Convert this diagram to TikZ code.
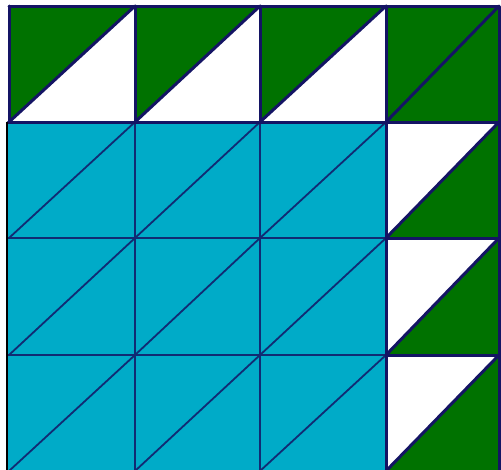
\documentclass[tikz,border=0pt]{standalone}
\definecolor{qgreen}{RGB}{0,114,0}
\definecolor{qblue}{RGB}{0,171,200}
\definecolor{qnavy}{RGB}{20,20,100}
\tikzset{
  thickline/.style={draw=qnavy,line width=3pt,line join=round,line cap=round},
  thinline/.style={draw=qnavy!85!qblue,line width=1.8pt,line cap=round}
}
\begin{document}
\begin{tikzpicture}[x=1pt,y=-1pt]
\useasboundingbox (0,0) rectangle (501,469);
\fill[white] (0,0) rectangle (501,469);
% blue 3x3 block
\fill[qblue] (8,122) rectangle (386,471);
\foreach \xa/\xb in {9/135,135/260,260/386}{
  \foreach \ya/\yb in {122/238,238/355,355/471}{
    \draw[thinline] (\xa,\yb) -- (\xb,\ya);
  }
}
\foreach \x in {135,260}{\draw[thinline] (\x,122) -- (\x,471);}
\foreach \y in {238,355}{\draw[thinline] (8,\y) -- (386,\y);}
% top row
\foreach \xa/\xb in {9/135,135/260,260/386}{
  \fill[qgreen] (\xa,6) -- (\xb,6) -- (\xa,122) -- cycle;
  \draw[thickline] (\xa,122) -- (\xb,6);
}
\fill[qgreen] (386,6) rectangle (499,122);
\draw[thickline] (386,122) -- (499,6);
% right column
\foreach \ya/\yb in {122/238,238/355,355/471}{
  \fill[qgreen] (499,\ya) -- (499,\yb) -- (386,\yb) -- cycle;
  \draw[thickline] (386,\yb) -- (499,\ya);
}
% thick grid lines
\draw[thickline] (9,6) -- (499,6) -- (499,471);
\draw[thickline] (9,6) -- (9,122);
\foreach \x in {135,260}{\draw[thickline] (\x,6) -- (\x,122);}
\draw[thickline] (386,6) -- (386,471);
\draw[thickline] (8,122) -- (499,122);
\foreach \y in {238,355}{\draw[thickline] (386,\y) -- (499,\y);}
\draw[black,line width=2pt] (7,122) -- (7,471);
\end{tikzpicture}
\end{document}
